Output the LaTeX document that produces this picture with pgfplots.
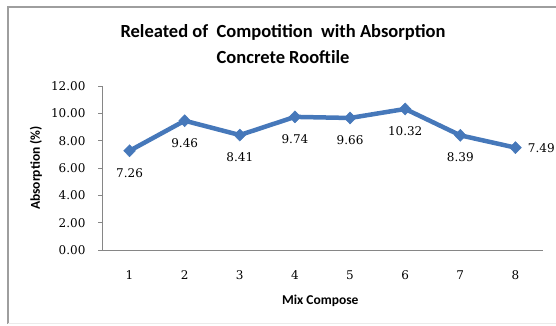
\documentclass[border=0pt]{standalone}
\usepackage{pgfplots}
\pgfplotsset{compat=1.18}
\usepackage{fontspec}
\setmainfont{Carlito}
\newfontfamily\numfont{DejaVu Serif}
\definecolor{serie}{HTML}{4678BA}
\definecolor{axgray}{HTML}{868686}
\pgfkeys{/pgf/number format/assume math mode=true}
\begin{document}
\begin{tikzpicture}[x=1pt,y=1pt]
\path[use as bounding box] (0,0) rectangle (556,326);
\draw[color=axgray!80,line width=1.2pt] (8,2) -- (8,319) -- (556,319);
\draw[color=black!8,line width=0.6pt] (8,2.5) -- (556,2.5);
\node[font=\fontsize{18.5}{26}\selectfont\bfseries,align=center] at (283,282) {Releated of\ \ Compotition\ \ with Absorption\\ Concrete Rooftile};
\begin{axis}[
  /pgf/number format/assume math mode=true,
  at={(102pt,76pt)}, anchor=south west,
  scale only axis, width=441pt, height=164pt,
  xmin=0.5, xmax=8.5, ymin=0, ymax=12,
  xtick={1,...,8}, ytick={0,2,...,12},
  axis x line*=bottom, axis y line*=left,
  axis line style={color=axgray,line width=0.8pt,-},
  x axis line style={-}, y axis line style={-},
  xtick style={draw=none},
  ytick style={color=axgray,line width=0.8pt},
  tick align=outside, major tick length=4pt,
  yticklabel={\numfont\pgfmathprintnumber[fixed,fixed zerofill,precision=2,assume math mode=true]{\tick}},
  xticklabel={\numfont\pgfmathprintnumber[assume math mode=true]{\tick}},
  ticklabel style={font=\fontsize{12}{14}\selectfont},
  xticklabel style={yshift=-13pt},
  yticklabel style={xshift=-9pt},
  xlabel={Mix Compose}, ylabel={Absorption (\%)},
  label style={font=\fontsize{13.5}{15}\selectfont\bfseries},
  xlabel style={at={(axis description cs:0.495,-0.31)},anchor=center},
  ylabel style={at={(axis description cs:-0.15,0.5)},anchor=center},
  clip=false,
]
\addplot[color=serie, line width=4.5pt, mark=diamond*, mark size=6pt,
  mark options={fill=serie,line width=0.5pt,xscale=1.3}]
coordinates {
(1,7.26) (2,9.46) (3,8.41) (4,9.74) (5,9.66) (6,10.32) (7,8.39) (8,7.49)
};
\addplot[draw=none, mark=none, point meta=y,
  nodes near coords={\numfont\pgfmathprintnumber[fixed,fixed zerofill,precision=2,assume math mode=true]{\pgfplotspointmeta}},
  nodes near coords style={font=\fontsize{12}{14}\selectfont,color=black,anchor=north,yshift=-14pt}]
coordinates {
(1,7.26) (2,9.46) (3,8.41) (4,9.74) (5,9.66) (6,10.32) (7,8.39)
};
\addplot[draw=none, mark=none, point meta=y,
  nodes near coords={\numfont\pgfmathprintnumber[fixed,fixed zerofill,precision=2,assume math mode=true]{\pgfplotspointmeta}},
  nodes near coords style={font=\fontsize{12}{14}\selectfont,color=black,anchor=west,xshift=9pt}]
coordinates {
(8,7.49)
};
\end{axis}
\end{tikzpicture}
\end{document}
